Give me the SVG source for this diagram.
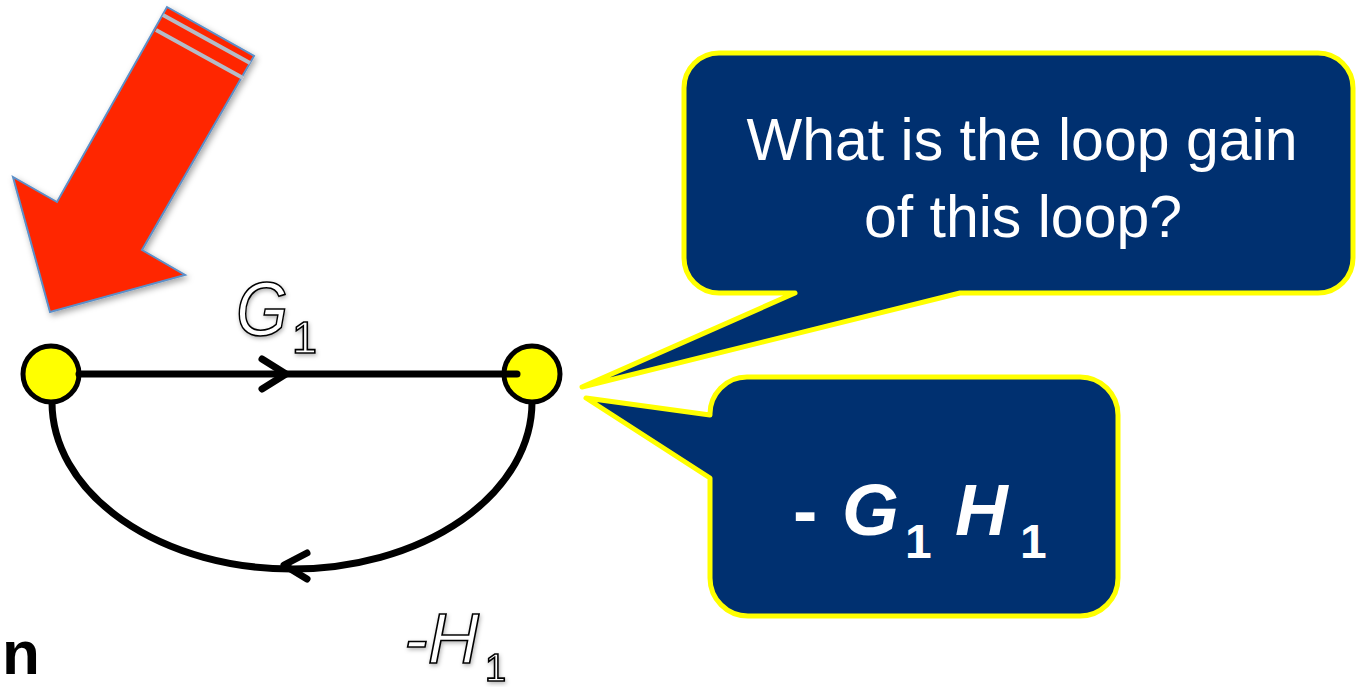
<svg xmlns="http://www.w3.org/2000/svg" width="1356" height="687" viewBox="0 0 1356 687">
<defs>
<style>
.node{fill:#FFFF00;stroke:#000;stroke-width:5}
.wire{fill:none;stroke:#000;stroke-width:7;stroke-linecap:round;stroke-linejoin:round}
.callout{fill:#003070;stroke:#FFFF00;stroke-width:5;stroke-linejoin:round}
.q{font-family:"Liberation Sans",Arial,sans-serif;font-size:59px;fill:#fff;text-anchor:middle}
.ans{font-family:"Liberation Sans",Arial,sans-serif;font-weight:bold;fill:#fff}
.lbl{font-family:"Liberation Sans",Arial,sans-serif;fill:#fff;stroke:#000;stroke-width:1.6;filter:url(#glow)}
</style>
<filter id="shadow" x="-20%" y="-20%" width="140%" height="140%">
<feDropShadow dx="2" dy="3" stdDeviation="3" flood-color="#000" flood-opacity="0.35"/>
</filter>
<filter id="glow" x="-30%" y="-30%" width="160%" height="160%">
<feDropShadow dx="1" dy="2" stdDeviation="2" flood-color="#000" flood-opacity="0.3"/>
</filter>
</defs>
<rect width="1356" height="687" fill="#fff"/>

<g id="red-arrow" filter="url(#shadow)">
<polygon points="167,7 254,56 142,250 185,275 50,312 13,177 57,202" fill="#FF2600" stroke="#5B8FC8" stroke-width="2" stroke-linejoin="miter"/>
<line x1="163" y1="15" x2="250" y2="63" stroke="#B4BCC8" stroke-width="4"/>
<line x1="156" y1="30" x2="243" y2="78" stroke="#B4BCC8" stroke-width="4"/>
</g>

<g id="connectors">
<path id="feedback" class="wire" d="M 52 402 A 240 167 0 0 0 532 402"/>
<polyline class="wire" points="307,553 284,565 307,579"/>
</g>

<g id="node-left"><circle class="node" cx="51" cy="374" r="28"/></g>
<g id="node-right"><circle class="node" cx="532" cy="374" r="28"/></g>

<g id="forward-connector">
<line class="wire" x1="79" y1="374" x2="517" y2="374" stroke-linecap="butt"/>
<polyline class="wire" points="262,359 286,374 262,389"/>
</g>

<g id="label-g1">
<text class="lbl" x="236" y="335" font-size="76" font-style="italic" textLength="52" lengthAdjust="spacingAndGlyphs">G</text>
<text class="lbl" x="292" y="353" font-size="45">1</text>
</g>
<g id="label-h1">
<text class="lbl" x="404" y="663" font-size="71" font-style="italic">-H</text>
<text class="lbl" x="485" y="681" font-size="38">1</text>
</g>

<g id="fragment">
<text x="2" y="674" font-family="'Liberation Sans',Arial,sans-serif" font-weight="bold" font-size="62" fill="#000">n</text>
</g>

<g id="callout-question">
<path class="callout" d="M 719 53 H 1318 A 35 35 0 0 1 1353 88 V 258 A 35 35 0 0 1 1318 293 H 960 L 582 387 L 795 293 H 719 A 35 35 0 0 1 684 258 V 88 A 35 35 0 0 1 719 53 Z"/>
<text class="q" x="1022" y="160">What is the loop gain</text>
<text class="q" x="1023" y="237">of this loop?</text>
</g>

<g id="callout-answer">
<path class="callout" d="M 747 377 H 1080 A 38 38 0 0 1 1118 415 V 578 A 38 38 0 0 1 1080 616 H 748 A 38 38 0 0 1 710 578 V 478 L 586 398 L 710 415 A 37 37 0 0 1 747 377 Z"/>
<text class="ans" font-size="73"><tspan x="793" y="535">-</tspan><tspan x="842" y="535" font-style="italic">G</tspan><tspan x="905" y="558" font-size="48">1</tspan><tspan x="955" y="535" font-style="italic">H</tspan><tspan x="1020" y="558" font-size="48">1</tspan></text>
</g>
</svg>
